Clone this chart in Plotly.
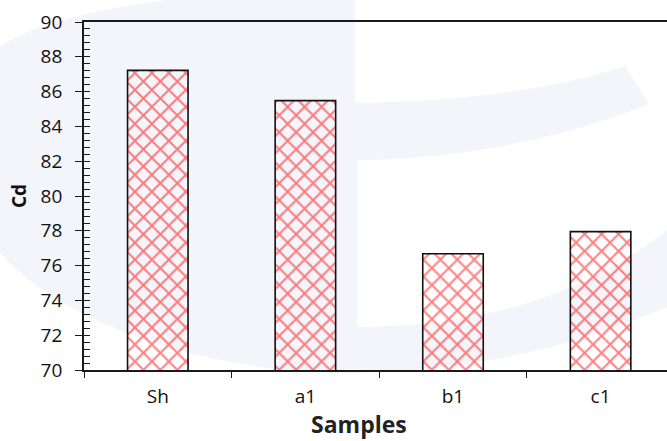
import plotly.graph_objects as go

categories = ["Sh", "a1", "b1", "c1"]
cd_values = [87.22, 85.48, 76.68, 77.95]
y_ticks = [70, 72, 74, 76, 78, 80, 82, 84, 86, 88, 90]

W, H = 667, 441
ML, MT, MB = 84, 22, 71
PW = W - ML
PH = H - MT - MB


def P(px, py):
    return f"{(px - ML) / PW:.5f},{(H - MB - py) / PH:.5f}"


wm = (
    f"M {P(0,47)} Q {P(50,12)} {P(200,-4)} L {P(355,-4)} L {P(355,103)} "
    f"C {P(420,103)} {P(540,95)} {P(625,66)} L {P(649,104)} "
    f"C {P(560,140)} {P(450,160)} {P(357,160)} L {P(357,327)} "
    f"C {P(470,327)} {P(580,300)} {P(667,230)} L {P(667,307)} "
    f"C {P(580,345)} {P(470,372)} {P(355,373)} "
    f"C {P(200,374)} {P(60,320)} {P(0,253)} Z"
)

fig = go.Figure()
fig.add_trace(go.Bar(
    x=categories, y=cd_values, width=0.41,
    marker=dict(
        color="rgba(0,0,0,0)",
        line=dict(color="#111111", width=1.6),
        pattern=dict(shape="x", fgcolor="#ff0000", size=12, solidity=0.3,
                     fillmode="overlay"),
    ),
    showlegend=False, hoverinfo="skip",
))
fig.add_trace(go.Scatter(
    x=categories, y=[None] * len(categories), yaxis="y2",
    showlegend=False, hoverinfo="skip", mode="markers",
))

font_main = "Open Sans, Noto Sans, sans-serif"
fig.update_layout(
    width=W, height=H,
    margin=dict(l=ML, r=0, t=MT, b=MB, pad=0),
    paper_bgcolor="white", plot_bgcolor="rgba(0,0,0,0)",
    font=dict(family=font_main, color="#111111", size=19),
    xaxis=dict(
        type="category", range=[-0.5, 3.45],
        showline=True, linecolor="#1a1a1a", linewidth=1.8, mirror=True,
        ticks="outside", ticklen=6, tickcolor="#1a1a1a", tickwidth=1.3,
        tickson="boundaries", showgrid=False, zeroline=False,
        tickfont=dict(size=19), ticklabelstandoff=8,
    ),
    yaxis=dict(
        range=[70, 90], tickvals=y_ticks,
        showline=True, linecolor="#1a1a1a", linewidth=1.8,
        ticks="outside", ticklen=7, tickcolor="#1a1a1a", tickwidth=1.3,
        showgrid=False, zeroline=False, tickfont=dict(size=19),
        ticklabelstandoff=9,
    ),
    yaxis2=dict(
        range=[70, 90], overlaying="y", side="left", anchor="x",
        dtick=0.4, tick0=70, ticks="inside", ticklen=6,
        tickcolor="#1a1a1a", tickwidth=1.1,
        showticklabels=False, showline=False, showgrid=False, zeroline=False,
    ),
    shapes=[dict(type="path", path=wm, xref="paper", yref="paper",
                 fillcolor="#f3f5fa", line=dict(width=0), layer="below")],
    annotations=[
        dict(text="<b>Cd</b>", xref="paper", yref="paper",
             x=(19 - ML) / PW, y=0.5, textangle=-90, showarrow=False,
             font=dict(size=19, color="#111111"), xanchor="center", yanchor="middle"),
        dict(text="<b>Samples</b>", xref="paper", yref="paper",
             x=(359 - ML) / PW, y=(H - MB - 424) / PH, showarrow=False,
             font=dict(size=23, color="#222222"), xanchor="center", yanchor="middle"),
    ],
)

fig.write_html(
    "out.html",
    config={"displayModeBar": False},
    post_script="document.body.style.margin='0';document.body.style.padding='0';"
                "document.body.style.overflow='hidden';",
)
